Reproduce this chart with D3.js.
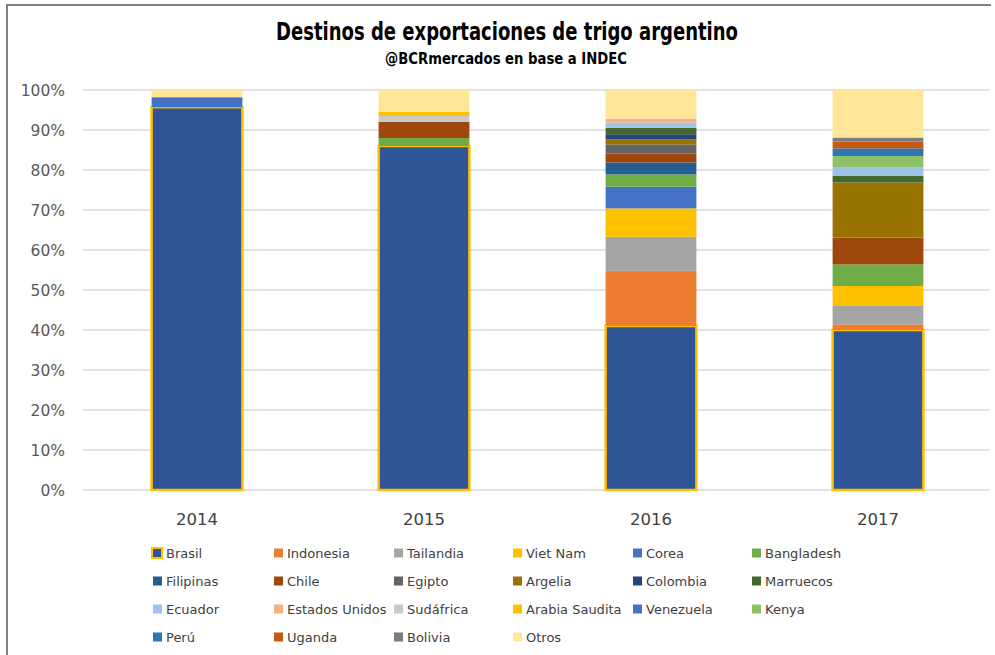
<!DOCTYPE html>
<html>
<head>
<meta charset="utf-8">
<title>Destinos de exportaciones de trigo argentino</title>
<script src="https://d3js.org/d3.v7.min.js"></script>
<style>
  body { margin: 0; background: #fff; }
  svg text { font-family: "DejaVu Sans", sans-serif; }
</style>
</head>
<body>
<script>
// datos (porcentaje del total exportado)
var anios = ["2014", "2015", "2016", "2017"];
var paises = ["Brasil", "Indonesia", "Tailandia", "Viet Nam", "Corea", "Bangladesh",
              "Filipinas", "Chile", "Egipto", "Argelia", "Colombia", "Marruecos",
              "Ecuador", "Estados Unidos", "Sudáfrica", "Arabia Saudita", "Venezuela", "Kenya",
              "Perú", "Uganda", "Bolivia", "Otros"];
var colores = ["#2f5597", "#ed7d31", "#a5a5a5", "#ffc000", "#4472c4", "#70ad47",
               "#255e91", "#9e480e", "#636363", "#997300", "#264478", "#43682b",
               "#9dc3e6", "#f4b183", "#c9c9c9", "#ffc000", "#4472c4", "#8cc168",
               "#2e75b6", "#c55a11", "#7b7b7b", "#ffe699"];
// valores por anio, en el mismo orden que paises
var v2014 = [95.7, 0, 0, 0, 2.5, 0, 0, 0, 0, 0, 0, 0, 0, 0, 0, 0, 0, 0, 0, 0, 0, 1.8];
var v2015 = [86, 0, 0, 0, 0, 2, 0, 4, 0, 0, 0, 0, 0, 0, 1.5, 1, 0, 0, 0, 0, 0, 5.5];
var v2016 = [41, 13.8, 8.5, 7.1, 5.4, 3.1, 3.0, 2.25, 2.25, 1.25, 1.3, 1.6, 1.3, 1.0, 0, 0, 0, 0, 0, 0, 0, 7.1];
var v2017 = [40, 1.4, 4.6, 5.0, 0, 5.4, 0, 6.7, 0, 13.8, 0, 1.6, 2.1, 0, 0, 0, 0, 2.9, 1.9, 1.7, 1.0, 11.9];
var ticks = [0, 10, 20, 30, 40, 50, 60, 70, 80, 90, 100];

var width = 995, height = 655;
var valores = [v2014, v2015, v2016, v2017];

var tabla = anios.map(function(a, i) {
  var fila = { anio: a };
  paises.forEach(function(p, j) { fila[p] = valores[i][j]; });
  return fila;
});

var svg = d3.select("body").append("svg")
    .attr("width", width)
    .attr("height", height);

// marco (solo arriba e izquierda se ven)
svg.append("path")
    .attr("d", "M7,655 L7,5 L991,5")
    .attr("fill", "none")
    .attr("stroke", "#7f7f7f")
    .attr("stroke-width", 2);

// titulos
svg.append("text")
    .attr("x", 507).attr("y", 40)
    .attr("text-anchor", "middle")
    .attr("textLength", 462)
    .attr("lengthAdjust", "spacingAndGlyphs")
    .style("font-family", "'Liberation Sans Narrow', 'DejaVu Sans Condensed', sans-serif")
    .style("font-weight", "bold")
    .style("font-size", "25px")
    .attr("fill", "#000")
    .text("Destinos de exportaciones de trigo argentino");

svg.append("text")
    .attr("x", 506).attr("y", 64)
    .attr("text-anchor", "middle")
    .attr("textLength", 242)
    .attr("lengthAdjust", "spacingAndGlyphs")
    .style("font-family", "'Liberation Sans Narrow', 'DejaVu Sans Condensed', sans-serif")
    .style("font-weight", "bold")
    .style("font-size", "15px")
    .attr("fill", "#000")
    .text("@BCRmercados en base a INDEC");

var x = d3.scaleBand()
    .domain(anios)
    .range([83.5, 991.5])
    .paddingInner(0.6)
    .paddingOuter(0.3);

var y = d3.scaleLinear()
    .domain([0, 100])
    .range([490, 90]);

// grilla
svg.append("g")
    .selectAll("line")
    .data(ticks)
    .enter()
    .append("line")
    .attr("x1", 83).attr("x2", 990)
    .attr("y1", function(d) { return y(d); })
    .attr("y2", function(d) { return y(d); })
    .attr("stroke", "#d9d9d9")
    .attr("stroke-width", 1.5);

svg.append("g")
    .selectAll("text")
    .data(ticks)
    .enter()
    .append("text")
    .attr("x", 65)
    .attr("y", function(d) { return y(d) + 6; })
    .attr("text-anchor", "end")
    .attr("fill", "#595959")
    .style("font-size", "15.5px")
    .text(function(d) { return d + "%"; });

svg.append("g")
    .selectAll("text")
    .data(anios)
    .enter()
    .append("text")
    .attr("x", function(d) { return x(d) + x.bandwidth() / 2; })
    .attr("y", 525)
    .attr("text-anchor", "middle")
    .attr("fill", "#404040")
    .style("font-size", "16.5px")
    .text(function(d) { return d; });

// barras apiladas
var series = d3.stack().keys(paises)(tabla);

var capas = svg.append("g")
    .selectAll("g")
    .data(series)
    .enter()
    .append("g")
    .attr("fill", function(d, i) { return colores[i]; });

capas.selectAll("rect")
    .data(function(d) { return d.filter(function(s) { return s[1] - s[0] > 0; }); })
    .enter()
    .append("rect")
    .attr("x", function(d) { return x(d.data.anio); })
    .attr("width", x.bandwidth())
    .attr("y", function(d) { return y(d[1]); })
    .attr("height", function(d) { return y(d[0]) - y(d[1]); });

// Brasil lleva borde dorado
capas.filter(function(d) { return d.key === "Brasil"; })
    .selectAll("rect")
    .attr("stroke", "#ffc000")
    .attr("stroke-width", 2.5);

// leyenda
var colX = [152, 273, 393, 512, 632, 751];
var filaY = [553, 581, 609, 637];

var leyenda = svg.append("g")
    .selectAll("g")
    .data(paises)
    .enter()
    .append("g")
    .attr("transform", function(d, i) {
      return "translate(" + colX[i % 6] + "," + filaY[Math.floor(i / 6)] + ")";
    });

leyenda.append("rect")
    .attr("x", function(d, i) { return i === 0 ? 0 : 1; })
    .attr("y", function(d, i) { return i === 0 ? -5 : -4.5; })
    .attr("width", function(d, i) { return i === 0 ? 10 : 9; })
    .attr("height", function(d, i) { return i === 0 ? 10 : 9; })
    .attr("fill", function(d, i) { return colores[i]; })
    .attr("stroke", function(d, i) { return i === 0 ? "#ffc000" : "none"; })
    .attr("stroke-width", 2);

leyenda.append("text")
    .attr("x", 14)
    .attr("y", 5)
    .attr("fill", "#404040")
    .style("font-size", "13px")
    .text(function(d) { return d; });
</script>
</body>
</html>
